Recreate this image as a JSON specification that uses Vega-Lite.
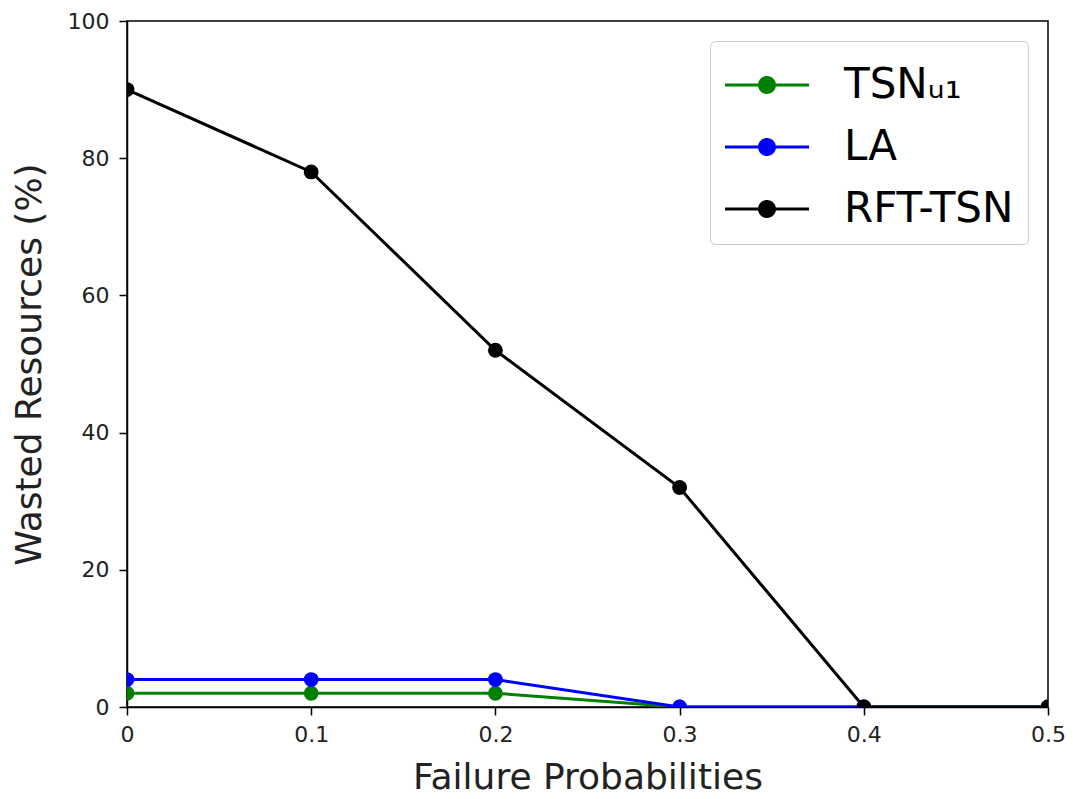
{
  "$schema": "https://vega.github.io/schema/vega-lite/v6.json",
  "width": 921,
  "height": 686,
  "autosize": {"type": "none"},
  "padding": {"left": 127, "top": 21, "right": 25, "bottom": 92},
  "background": "white",
  "config": {
    "font": "DejaVu Sans",
    "view": {"stroke": "black", "strokeWidth": 1.5},
    "axis": {
      "grid": false,
      "domainColor": "black",
      "domainWidth": 1.5,
      "tickColor": "black",
      "tickWidth": 1.5,
      "tickSize": 8,
      "labelFont": "DejaVu Sans",
      "labelFontSize": 22,
      "labelColor": "#222",
      "titleFont": "DejaVu Sans",
      "titleFontSize": 36,
      "titleFontWeight": "normal",
      "titleColor": "#222",
      "zindex": 1
    }
  },
  "data": {
    "values": [
      {"p": 0.0, "w": 2, "series": "TSN_u1"},
      {"p": 0.1, "w": 2, "series": "TSN_u1"},
      {"p": 0.2, "w": 2, "series": "TSN_u1"},
      {"p": 0.3, "w": 0, "series": "TSN_u1"},
      {"p": 0.4, "w": 0, "series": "TSN_u1"},
      {"p": 0.5, "w": 0, "series": "TSN_u1"},
      {"p": 0.0, "w": 4, "series": "LA"},
      {"p": 0.1, "w": 4, "series": "LA"},
      {"p": 0.2, "w": 4, "series": "LA"},
      {"p": 0.3, "w": 0, "series": "LA"},
      {"p": 0.4, "w": 0, "series": "LA"},
      {"p": 0.5, "w": 0, "series": "LA"},
      {"p": 0.0, "w": 90, "series": "RFT-TSN"},
      {"p": 0.1, "w": 78, "series": "RFT-TSN"},
      {"p": 0.2, "w": 52, "series": "RFT-TSN"},
      {"p": 0.3, "w": 32, "series": "RFT-TSN"},
      {"p": 0.4, "w": 0, "series": "RFT-TSN"},
      {"p": 0.5, "w": 0, "series": "RFT-TSN"}
    ]
  },
  "encoding": {
    "x": {
      "field": "p",
      "type": "quantitative",
      "scale": {"domain": [0, 0.5], "nice": false, "zero": false},
      "axis": {
        "title": "Failure Probabilities",
        "values": [0, 0.1, 0.2, 0.3, 0.4, 0.5],
        "format": ".1~f",
        "labelFlush": false,
        "labelPadding": 9,
        "titlePadding": 15
      }
    },
    "y": {
      "field": "w",
      "type": "quantitative",
      "scale": {"domain": [0, 100], "nice": false},
      "axis": {
        "title": "Wasted Resources (%)",
        "values": [0, 20, 40, 60, 80, 100],
        "labelFlush": false,
        "labelPadding": 10,
        "titlePadding": 19
      }
    },
    "color": {
      "field": "series",
      "type": "nominal",
      "sort": ["TSN_u1", "LA", "RFT-TSN"],
      "scale": {"domain": ["TSN_u1", "LA", "RFT-TSN"], "range": ["#008000", "#0000ff", "#000000"]},
      "legend": {
        "title": null,
        "orient": "top-right",
        "offset": 20,
        "padding": 14,
        "fillColor": "white",
        "strokeColor": "#cccccc",
        "cornerRadius": 5,
        "symbolType": "M -1.4 -0.05 H 1.4 V 0.05 H -1.4 Z M 0.3 0 A 0.3 0.3 0 1 1 -0.3 0 A 0.3 0.3 0 1 1 0.3 0 Z",
        "symbolSize": 3600,
        "symbolStrokeWidth": 0,
        "symbolOffset": 13,
        "labelFont": "DejaVu Sans",
        "labelFontSize": 42,
        "labelColor": "black",
        "labelOffset": 47,
        "labelLimit": 400,
        "rowPadding": 11,
        "labelExpr": "datum.label == 'TSN_u1' ? 'TSNᵤ₁' : datum.label"
      }
    }
  },
  "layer": [
    {"mark": {"type": "line", "strokeWidth": 3, "clip": true}},
    {"mark": {"type": "point", "filled": true, "opacity": 1, "size": 220, "clip": true}}
  ]
}
